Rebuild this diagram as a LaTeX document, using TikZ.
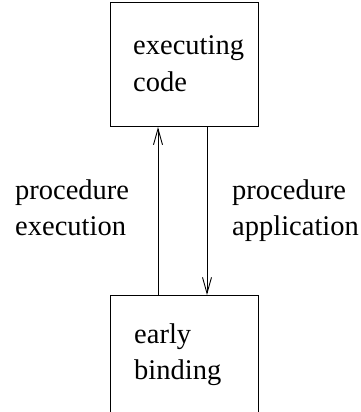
\documentclass[tikz,border=0pt]{standalone}
\usepackage{fontspec}
\setmainfont{Liberation Serif}
\usetikzlibrary{arrows.meta}
\begin{document}
\begin{tikzpicture}[x=1pt,y=-1pt,
  boxstyle/.style={draw=black,line width=1.1pt,minimum width=148pt,inner sep=0pt,anchor=north west},
  lbl/.style={font=\fontsize{28.5}{36}\selectfont,align=left,anchor=base west,inner sep=0pt},
  arr/.style={line width=0.9pt,-{Straight Barb[length=16pt,width=9pt,line width=0.9pt]}}]
\useasboundingbox (0,0) rectangle (360,412);
\begin{scope}
\clip (0,0) rectangle (360,412);
\node[boxstyle,minimum height=124pt] (exec) at (110,2) {};
\node[boxstyle,minimum height=130pt] (early) at (110,295) {};
\end{scope}
\node[lbl] (t1) at (133,91) {executing\\code};
\node[lbl] (t2) at (134,379) {early\\binding};
\node[lbl] (t3) at (15,235) {procedure\\execution};
\node[lbl] (t4) at (232,235) {procedure\\application};
\coordinate (ux) at (158,0);
\coordinate (dx) at (207,0);
\draw[arr] (early.north -| ux) -- (exec.south -| ux);
\draw[arr] (exec.south -| dx) -- (early.north -| dx);
\end{tikzpicture}
\end{document}
